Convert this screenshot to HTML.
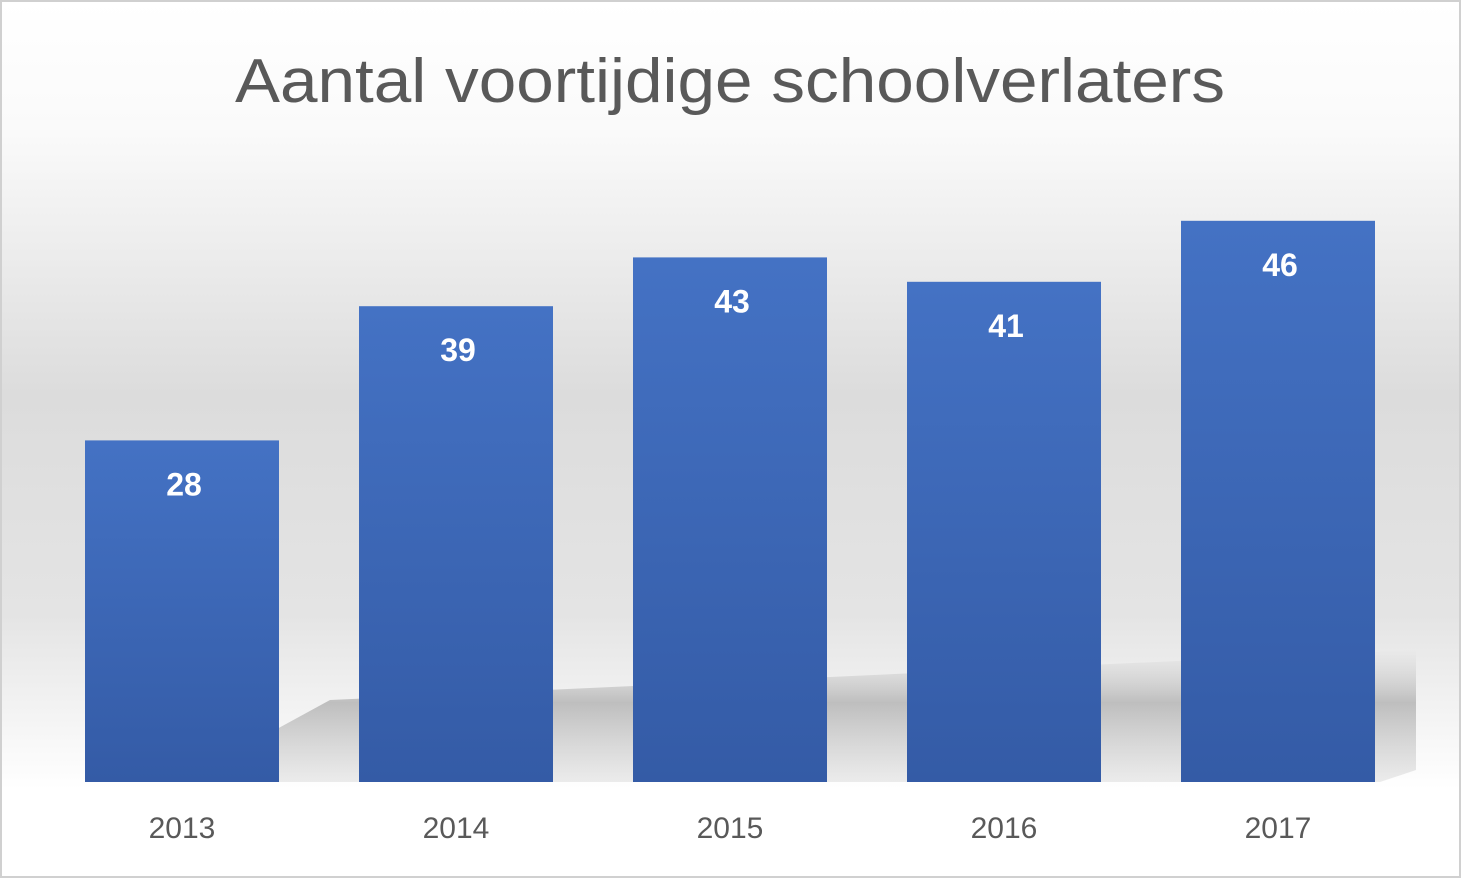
<!DOCTYPE html>
<html><head><meta charset="utf-8"><style>
html,body{margin:0;padding:0;}
body{width:1461px;height:878px;overflow:hidden;font-family:"Liberation Sans",sans-serif;}
#chart{position:absolute;left:0;top:0;width:1461px;height:878px;}
</style></head><body>
<svg id="chart" width="1461" height="878" viewBox="0 0 1461 878">
<defs>
<linearGradient id="bg" x1="0" y1="0" x2="0" y2="1">
<stop offset="0" stop-color="#ffffff"/>
<stop offset="0.15" stop-color="#fafafa"/>
<stop offset="0.45" stop-color="#dcdcdc"/>
<stop offset="0.7" stop-color="#e4e4e4"/>
<stop offset="0.9" stop-color="#ffffff"/>
<stop offset="1" stop-color="#ffffff"/>
</linearGradient>
<linearGradient id="shadow" x1="0" y1="0" x2="0" y2="1">
<stop offset="0" stop-color="#bdbdbd" stop-opacity="0"/>
<stop offset="0.4" stop-color="#a8a8a8" stop-opacity="0.7"/>
<stop offset="1" stop-color="#d0d0d0" stop-opacity="0.4"/>
</linearGradient>
<linearGradient id="barg" x1="0" y1="0" x2="0" y2="1">
<stop offset="0" stop-color="#4472c4"/>
<stop offset="1" stop-color="#345ba6"/>
</linearGradient>
</defs>
<rect x="1" y="1" width="1459" height="876" fill="url(#bg)" stroke="#d0d0d0" stroke-width="2"/>
<polygon points="180,782 330,700 1416,650 1416,770 1380,782" fill="url(#shadow)"/>
<text x="730" y="102" text-anchor="middle" font-size="62" textLength="990" lengthAdjust="spacingAndGlyphs" fill="#595959">Aantal voortijdige schoolverlaters</text>
<g id="bars"></g>
</svg>
<script>
const categories=["2013","2014","2015","2016","2017"];
const values=[28,39,43,41,46];
const baseY=782, scale=12.2, x0=182, step=274, bw=194;
const ns="http://www.w3.org/2000/svg";
const g=document.getElementById("bars");
function xPos(i){return x0+i*step;}
function yPos(v){return baseY-v*scale;}
categories.forEach((c,i)=>{
  const r=document.createElementNS(ns,"rect");
  r.setAttribute("x",xPos(i)-bw/2);r.setAttribute("y",yPos(values[i]));
  r.setAttribute("width",bw);r.setAttribute("height",baseY-yPos(values[i]));
  r.setAttribute("fill","url(#barg)");
  
  
  g.appendChild(r);
  const t=document.createElementNS(ns,"text");
  t.setAttribute("x",xPos(i)+2);t.setAttribute("y",yPos(values[i])+55);
  t.setAttribute("text-anchor","middle");t.setAttribute("font-size","32");
  t.setAttribute("font-weight","bold");t.setAttribute("fill","#ffffff");
  t.textContent=values[i];
  
  
  g.appendChild(t);
  const l=document.createElementNS(ns,"text");
  l.setAttribute("x",xPos(i));l.setAttribute("y",838);
  l.setAttribute("text-anchor","middle");l.setAttribute("font-size","30");
  l.setAttribute("fill","#595959");
  l.textContent=c;
  
  
  g.appendChild(l);
});
</script>
</body></html>
